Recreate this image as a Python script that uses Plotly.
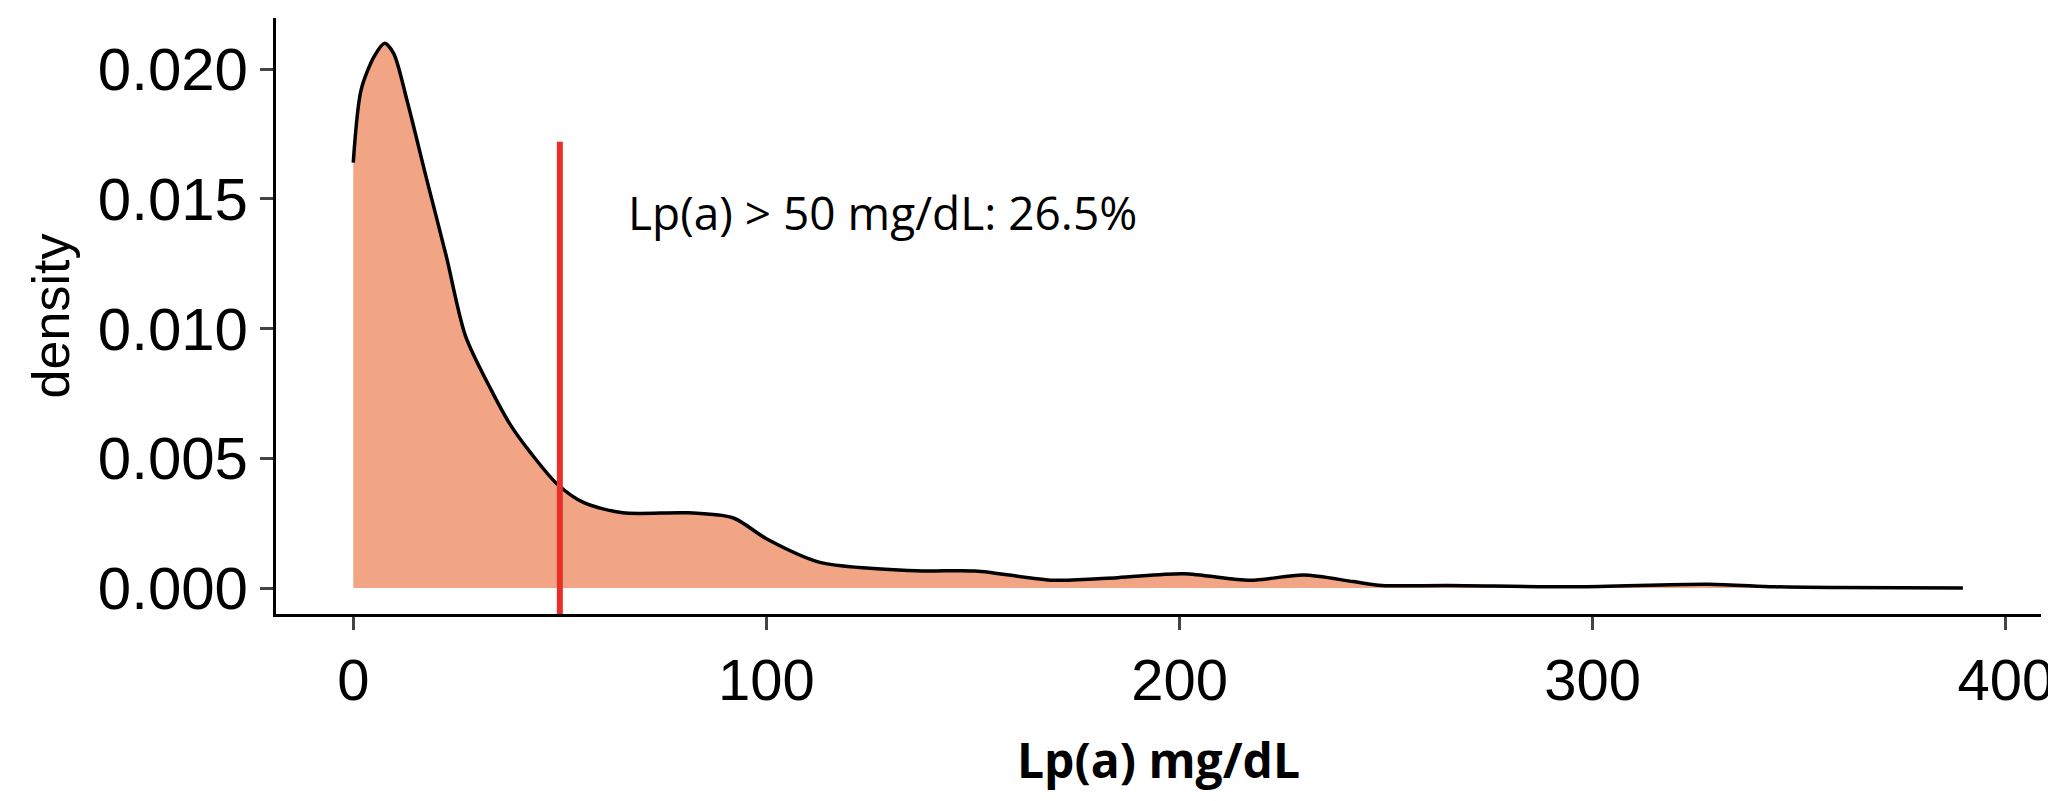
import plotly.graph_objects as go

# density curve
lpa = [0, 1.9, 5.1, 7.6, 9.8, 13, 17.7, 22.5, 27.2, 33.5, 38, 43, 49.4, 55.7, 65.2, 81, 92, 100,
       112.7, 125, 138, 150.6, 169.6, 185, 201, 217, 230, 242, 249, 265, 296, 328, 344, 359, 389.6]
density = [0.0164, 0.0192, 0.0205, 0.0210, 0.0206, 0.0188, 0.0158, 0.0128, 0.0097, 0.0076, 0.0063,
           0.0052, 0.0040, 0.0033, 0.0029, 0.0029, 0.0027, 0.0019, 0.0010, 0.00076, 0.00066,
           0.00066, 0.0003, 0.0004, 0.00055, 0.0003, 0.0005, 0.00025, 0.0001, 0.0001, 0.00005,
           0.00015, 0.00005, 0.00002, 0.0]
cutoff = [50, 50]
cutoff_y = [-0.001, 0.0172]
x_ticks = [0, 100, 200, 300, 400]
y_ticks = [0.0, 0.005, 0.010, 0.015, 0.020]

fig = go.Figure()
fig.add_trace(go.Scatter(x=lpa, y=density, mode='lines', fill='tozeroy',
                         fillcolor='#f2a584',
                         line=dict(color='black', width=3.5, shape='spline', smoothing=0.8),
                         showlegend=False))
fig.add_trace(go.Scatter(x=cutoff, y=cutoff_y, mode='lines',
                         line=dict(color='#e8302a', width=6), showlegend=False))

fig.add_annotation(x=66, y=0.0145, text='Lp(a) > 50 mg/dL: 26.5%', showarrow=False,
                   xanchor='left', yanchor='middle',
                   font=dict(family='Open Sans', size=46, color='black'))

fig.update_layout(
    width=2056, height=801,
    margin=dict(l=268, r=19, t=10, b=195),
    plot_bgcolor='white', paper_bgcolor='white',
    font=dict(family='Liberation Sans', color='black'),
)
fig.update_xaxes(range=[-18.7, 408.5], tickvals=x_ticks, showgrid=False, zeroline=False,
                 showline=True, linecolor='black', linewidth=3, ticks='outside',
                 ticklen=13, tickwidth=3, tickfont=dict(size=58),
                 title=dict(text='<b>Lp(a) mg/dL</b>', standoff=34,
                            font=dict(family='Open Sans', size=48)))
fig.update_yaxes(range=[-0.001, 0.02197], tickvals=y_ticks, tickformat='.3f', showgrid=False,
                 zeroline=False, showline=True, linecolor='black', linewidth=3, ticks='outside',
                 ticklen=13, tickwidth=3, tickfont=dict(size=60),
                 title=dict(text='density', standoff=12, font=dict(size=52)))

fig.write_html("out.html")
